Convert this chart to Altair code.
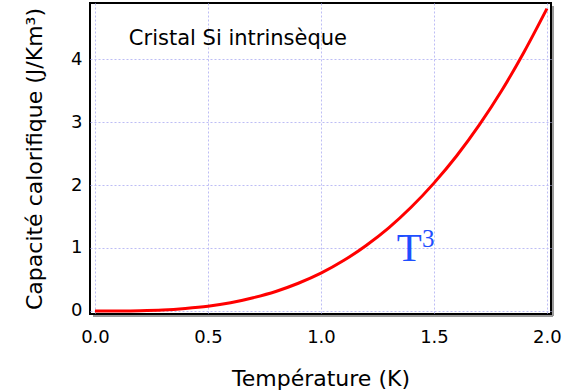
import altair as alt
import pandas as pd

# Data (heat capacity vs temperature)
temperature = [0.0, 0.1, 0.2, 0.3, 0.4, 0.5, 0.6, 0.7, 0.8, 0.9, 1.0,
               1.1, 1.2, 1.3, 1.4, 1.5, 1.6, 1.7, 1.8, 1.9, 2.0]
capacity = [0.0, 0.001, 0.005, 0.016, 0.04, 0.075, 0.13, 0.21, 0.31, 0.44, 0.6,
            0.8, 1.04, 1.32, 1.65, 2.03, 2.46, 2.95, 3.5, 4.12, 4.8]

x_ticks = [0.0, 0.5, 1.0, 1.5, 2.0]
y_ticks = [0, 1, 2, 3, 4]

label_text = ["Cristal Si intrinsèque"]
label_x = [0.15]
label_y = [4.22]

t_text = ["T"]
t_x = [1.335]
t_y = [0.79]
sup_text = ["3"]
sup_x = [1.447]
sup_y = [1.02]

df = pd.DataFrame({"T": temperature, "C": capacity})
df_label = pd.DataFrame({"x": label_x, "y": label_y, "t": label_text})
df_t = pd.DataFrame({"x": t_x, "y": t_y, "t": t_text})
df_sup = pd.DataFrame({"x": sup_x, "y": sup_y, "t": sup_text})

W, H = 461, 311
FONT = "DejaVu Sans"
GRID = "#bdbdf5"

xs = alt.Scale(domain=[-0.022, 2.018], nice=False, zero=False)
ys = alt.Scale(domain=[-0.048, 4.89], nice=False, zero=False)

xaxis = alt.Axis(values=x_ticks, format=".1f", title="Température (K)",
                 grid=True, gridColor=GRID, gridDash=[2, 2], gridWidth=1,
                 ticks=False, domain=False, labelFont=FONT, labelFontSize=18,
                 labelColor="black", labelPadding=14, labelFlush=False,
                 titleFont=FONT, titleFontSize=22, titleFontWeight="normal",
                 titleColor="black", titleY=71, titleBaseline="alphabetic")
yaxis = alt.Axis(values=y_ticks, format="d", title="Capacité calorifique (J/Km³)",
                 grid=True, gridColor=GRID, gridDash=[2, 2], gridWidth=1,
                 ticks=False, domain=False, labelFont=FONT, labelFontSize=18,
                 labelColor="black", labelPadding=8, labelFlush=False,
                 titleFont=FONT, titleFontSize=22, titleFontWeight="normal",
                 titleColor="black", titleX=-49, titleY=H / 2,
                 titleBaseline="alphabetic", titleAngle=270)

line = alt.Chart(df).mark_line(color="#ff0000", strokeWidth=3,
                               interpolate="monotone", clip=True).encode(
    x=alt.X("T:Q", scale=xs, axis=xaxis),
    y=alt.Y("C:Q", scale=ys, axis=yaxis),
)

label = alt.Chart(df_label).mark_text(font=FONT, fontSize=21, color="black",
                                      align="left", baseline="alphabetic").encode(
    x=alt.X("x:Q", scale=xs), y=alt.Y("y:Q", scale=ys), text="t:N")

tmark = alt.Chart(df_t).mark_text(font="Liberation Serif", fontSize=41,
                                  color="#1f4fff", align="left",
                                  baseline="alphabetic").encode(
    x=alt.X("x:Q", scale=xs), y=alt.Y("y:Q", scale=ys), text="t:N")

supmark = alt.Chart(df_sup).mark_text(font="Liberation Serif", fontSize=25,
                                      color="#1f4fff", align="left",
                                      baseline="alphabetic").encode(
    x=alt.X("x:Q", scale=xs), y=alt.Y("y:Q", scale=ys), text="t:N")

shadow_r = alt.Chart(df.head(1)).mark_rule(color="#999999", strokeWidth=2).encode(
    x=alt.value(W + 2), y=alt.value(3), y2=alt.value(H + 2))
shadow_b = alt.Chart(df.head(1)).mark_rule(color="#999999", strokeWidth=2).encode(
    x=alt.value(3), x2=alt.value(W + 2), y=alt.value(H + 2))

chart = alt.layer(shadow_r, shadow_b, line, label, tmark, supmark).properties(
    width=W, height=H,
    autosize=alt.AutoSizeParams(type="none"),
    padding={"left": 90, "top": 3, "right": 12, "bottom": 76},
    background="white",
).configure_view(stroke="black", strokeWidth=2)

chart.save("out.html", embed_options={"renderer": "svg", "actions": False})
